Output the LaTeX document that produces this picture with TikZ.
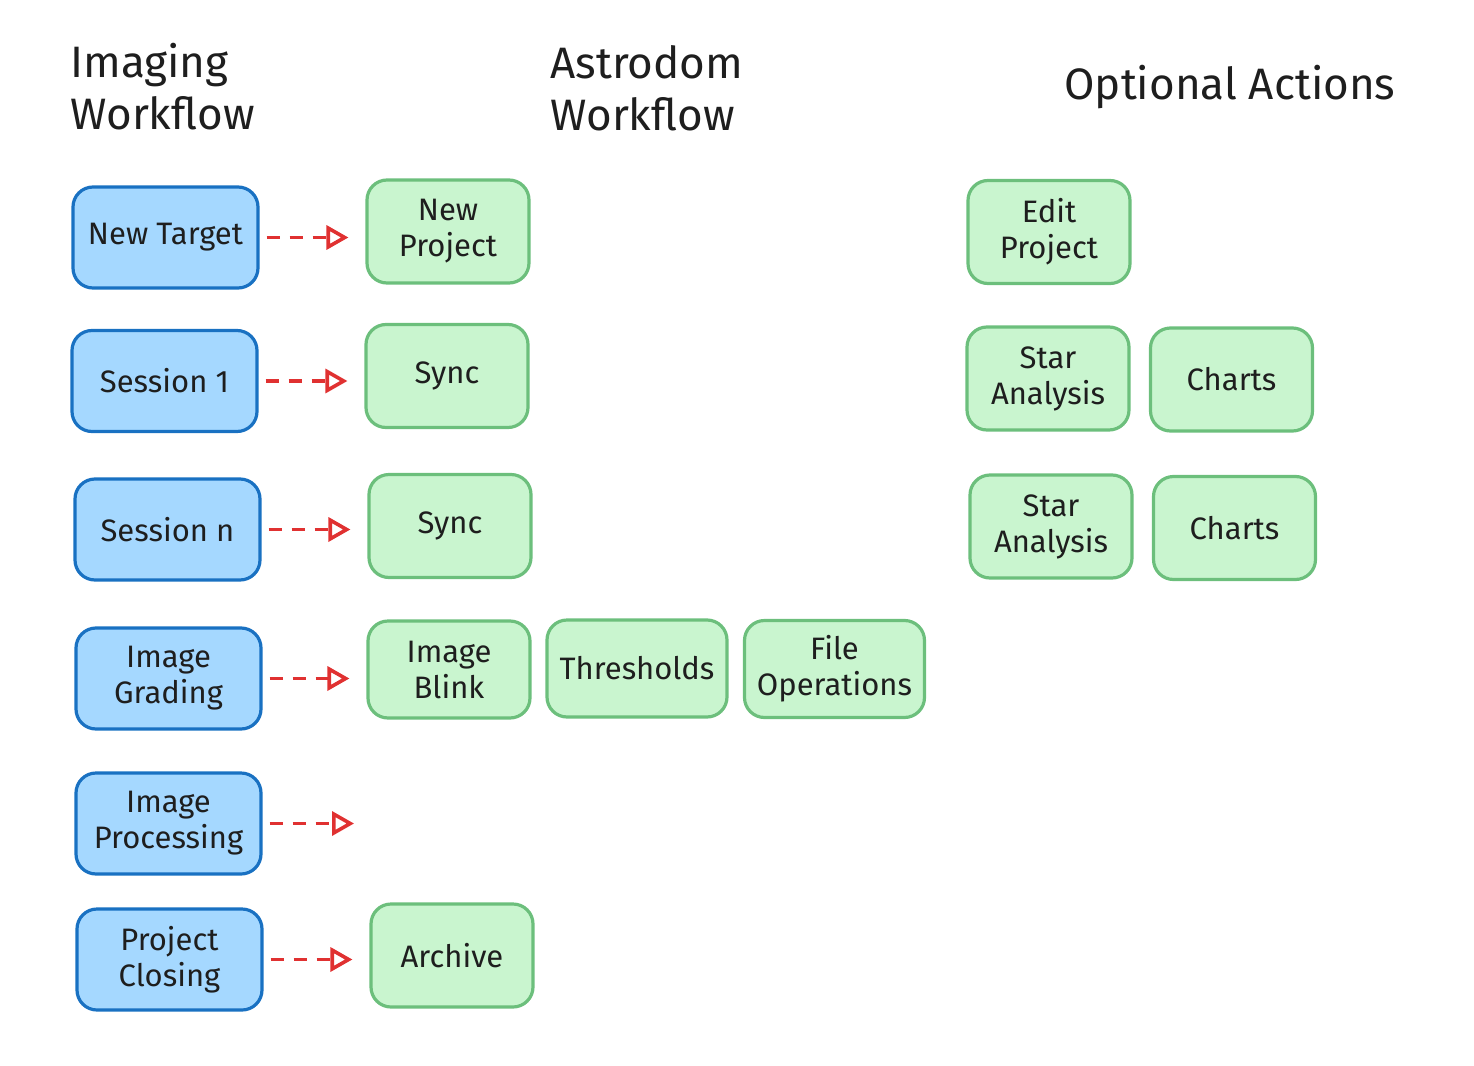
\documentclass[tikz,border=0pt]{standalone}
\usepackage{fontspec}
\setmainfont{Fira Sans}
\usetikzlibrary{arrows.meta}

\definecolor{imgfill}{HTML}{A5D8FF}
\definecolor{imgline}{HTML}{1971C2}
\definecolor{astrofill}{HTML}{C9F5CF}
\definecolor{astroline}{HTML}{6CBF7C}
\definecolor{linkred}{HTML}{E03131}
\definecolor{inkcol}{HTML}{1E1E1E}

\tikzset{
    imgbox/.style={draw=imgline, fill=imgfill, line width=1.6pt, rounded corners=10pt,
        minimum width=92.5pt, minimum height=50.5pt, align=center, font=\fontsize{15.5}{18}\selectfont, text=inkcol},
    astrobox/.style={draw=astroline, fill=astrofill, line width=1.6pt, rounded corners=10pt,
        minimum width=81pt, minimum height=51.5pt, align=center, font=\fontsize{15.5}{18}\selectfont, text=inkcol},
    widebox/.style={astrobox, minimum width=90pt, minimum height=48.5pt},
    flowarrow/.style={draw=linkred, line width=1.8pt, dash pattern=on 6.5pt off 5pt,
        -{Triangle[open, length=11pt, width=12pt, line width=1.8pt]}, shorten <=3.5pt, shorten >=8.5pt},
    heading/.style={align=left, font=\fontsize{22}{26}\selectfont, text=inkcol, inner sep=0pt},
}

\begin{document}
\begin{tikzpicture}[x=0.5pt, y=-0.5pt]
    \useasboundingbox (0, 0) rectangle (1474, 1066);

    \node[heading, anchor=north west] (imghead) at (70, 43) {Imaging\\Workflow};
    \node[heading, anchor=north west] (astrohead) at (550, 45) {Astrodom\\Workflow};
    \node[heading] (opthead) at (1230, 87) {Optional Actions};

    \node[imgbox] (target) at (165.5, 237.5) {New Target};
    \node[imgbox] (session1) at (164.5, 381) {Session 1};
    \node[imgbox] (sessionn) at (167.5, 529.5) {Session n};
    \node[imgbox] (grading) at (168.5, 678.5) {Image\\Grading};
    \node[imgbox] (processing) at (168.5, 823.5) {Image\\Processing};
    \node[imgbox] (closing) at (169.5, 959.5) {Project\\Closing};

    \node[astrobox] (newproject) at (448, 231.5) {New\\Project};
    \node[astrobox] (sync1) at (447, 376) {Sync};
    \node[astrobox] (syncn) at (450, 526) {Sync};
    \node[astrobox, minimum height=48.5pt] (blink) at (449, 669.5) {Image\\Blink};
    \node[widebox] (thresholds) at (637, 668.5) {Thresholds};
    \node[widebox] (fileops) at (834.5, 669) {File\\Operations};
    \node[astrobox] (archive) at (452, 955.5) {Archive};
    \coordinate (procend) at (371, 821);

    \node[astrobox] (editproject) at (1049, 232) {Edit\\Project};
    \node[astrobox] (star1) at (1048, 378.5) {Star\\Analysis};
    \node[astrobox] (charts1) at (1231.5, 379.5) {Charts};
    \node[astrobox] (star2) at (1051, 526.5) {Star\\Analysis};
    \node[astrobox] (charts2) at (1234.5, 528) {Charts};

    \draw[flowarrow] (target.east) -- (target.east -| newproject.west);
    \draw[flowarrow] (session1.east) -- (session1.east -| sync1.west);
    \draw[flowarrow] (sessionn.east) -- (sessionn.east -| syncn.west);
    \draw[flowarrow] (grading.east) -- (grading.east -| blink.west);
    \draw[flowarrow] (processing.east) -- (processing.east -| procend);
    \draw[flowarrow] (closing.east) -- (closing.east -| archive.west);
\end{tikzpicture}
\end{document}
